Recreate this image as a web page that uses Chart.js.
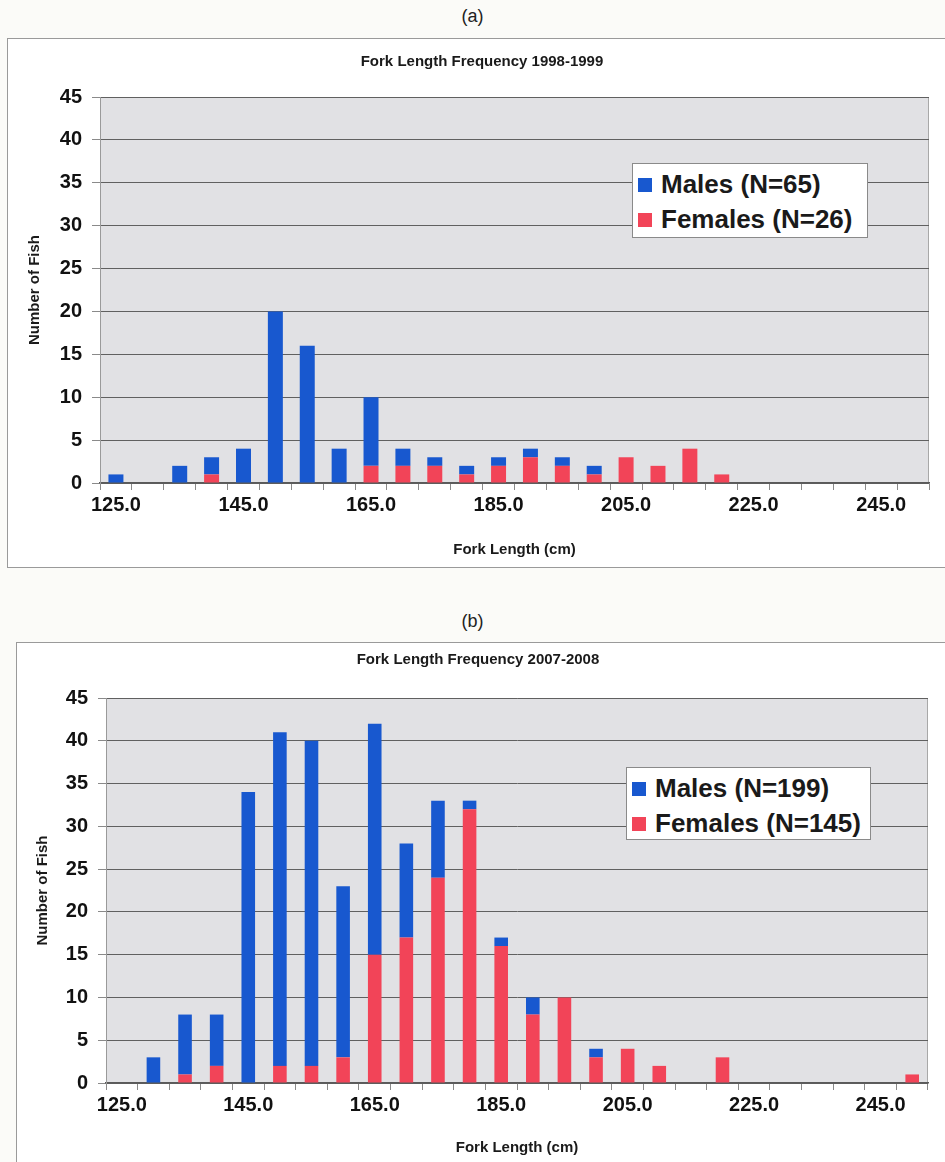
<!DOCTYPE html>
<html>
<head>
<meta charset="utf-8">
<script src="https://cdn.jsdelivr.net/npm/chart.js@4.4.1/dist/chart.umd.min.js"></script>
<style>
  body { margin:0; width:945px; height:1162px; overflow:hidden; position:relative; background:#fbfbf8; font-family:'Liberation Sans', Arial, sans-serif; }
  .cap { position:absolute; left:0; width:945px; text-align:center; font-size:18px; color:#222; }
  .frame { position:absolute; background:#fff; border:1px solid #9a9a9a; box-sizing:border-box; }
  canvas { position:absolute; }
  .legend { position:absolute; background:#fff; border:1px solid #8a8a8a; box-sizing:border-box; padding:3px 0 0 5px; font-weight:bold; font-size:26px; color:#1a1a1a; white-space:nowrap; }
  .legend .row { display:flex; align-items:center; height:35px; }
  .legend .sw { width:14px; height:14px; margin-right:9px; }
</style>
</head>
<body>
<div class="cap" style="top:6px">(a)</div>
<div class="frame" style="left:7px;top:38px;width:960px;height:530px"></div>
<canvas id="chartA" width="950" height="530" style="left:7px;top:38px"></canvas>
<div class="legend" id="legendA" style="left:632px;top:163px;width:236px;height:75px"></div>

<div class="cap" style="top:611px">(b)</div>
<div class="frame" style="left:16px;top:642px;width:960px;height:540px"></div>
<canvas id="chartB" width="945" height="530" style="left:16px;top:642px"></canvas>
<div class="legend" id="legendB" style="left:626px;top:767px;width:245px;height:73px"></div>

<script>
// fork length bins (cm), one bar per 5 cm
const lengths = [125,130,135,140,145,150,155,160,165,170,175,180,185,190,195,200,205,210,215,220,225,230,235,240,245,250];

// 1998-1999
const males9899   = [1,0,2,2,4,20,16,4,8,2,1,1,1,1,1,1,0,0,0,0,0,0,0,0,0,0];
const females9899 = [0,0,0,1,0,0,0,0,2,2,2,1,2,3,2,1,3,2,4,1,0,0,0,0,0,0];

// 2007-2008
const males0708   = [0,3,7,6,34,39,38,20,27,11,9,1,1,2,0,1,0,0,0,0,0,0,0,0,0,0];
const females0708 = [0,0,1,2,0,2,2,3,15,17,24,32,16,8,10,3,4,2,0,3,0,0,0,0,0,1];

const yTicks = [0,5,10,15,20,25,30,35,40,45];

const BLUE = '#1858cf';
const RED = '#f24458';
const FONT = "'Liberation Sans', Arial, sans-serif";

// grey plot area like the Excel original
const plotBg = {
  id: 'plotBg',
  beforeDraw(chart, args, opts) {
    const { ctx, chartArea: a } = chart;
    ctx.save();
    ctx.fillStyle = opts.color;
    ctx.fillRect(a.left, a.top, a.width, a.height);
    ctx.strokeStyle = opts.border;
    ctx.lineWidth = 1;
    ctx.strokeRect(a.left + 0.5, a.top + 0.5, a.width - 1, a.height - 1);
    ctx.restore();
  }
};

function legendHtml(el, items) {
  el.innerHTML = '';
  for (const it of items) {
    const row = document.createElement('div');
    row.className = 'row';
    const sw = document.createElement('span');
    sw.className = 'sw';
    sw.style.background = it.color;
    row.appendChild(sw);
    row.appendChild(document.createTextNode(it.text));
    el.appendChild(row);
  }
}

// g: page geometry of canvas and plot box
function plot(id, title, males, females, barPct, g) {
  const W = g.cw, H = g.ch;
  const plotL = g.plotLeft - g.left, plotR = g.plotRight - g.left;
  const plotT = g.plotTop - g.top, plotB = g.plotBottom - g.top;
  const padR = W - plotR;
  const padL = Math.max(0, 2 * (g.titleX - g.left) - plotR);
  const tLh = 18, aLh = 17;
  const tTop = g.titleY - g.top - tLh / 2;

  const cfg = {
    type: 'bar',
    data: {
      labels: lengths.map(v => v.toFixed(1)),
      datasets: [
        { label: 'Females', data: females, backgroundColor: RED, barPercentage: barPct, categoryPercentage: 1 },
        { label: 'Males', data: males, backgroundColor: BLUE, barPercentage: barPct, categoryPercentage: 1 }
      ]
    },
    options: {
      responsive: false,
      animation: false,
      layout: { padding: { left: padL, right: padR, top: 0, bottom: 0 } },
      plugins: {
        legend: { display: false },
        tooltip: { enabled: false },
        title: {
          display: true, text: title, color: '#1a1a1a',
          font: { family: FONT, size: 15, weight: 'bold', lineHeight: tLh / 15 },
          padding: { top: tTop, bottom: plotT - tTop - tLh }
        },
        plotBg: { color: '#e1e1e4', border: '#a8a8a8' }
      },
      scales: {
        x: {
          stacked: true,
          grid: { display: true, drawOnChartArea: false, offset: true, tickLength: 7, color: '#8a8a8a' },
          border: { color: '#5a5a5a', width: 1.5 },
          ticks: {
            autoSkip: false, maxRotation: 0, padding: 3, color: '#111',
            font: { family: FONT, size: 20, weight: 'bold' },
            callback: (v, i) => (i % 4 === 0 ? lengths[i].toFixed(1) : '')
          },
          title: {
            display: true, text: 'Fork Length (cm)', color: '#1a1a1a',
            font: { family: FONT, size: 15, weight: 'bold', lineHeight: aLh / 15 },
            padding: { top: 0, bottom: H - (g.xTitleY - g.top) - aLh / 2 }
          },
          afterFit: s => { s.height = H - plotB; }
        },
        y: {
          stacked: true, min: 0, max: 45,
          afterBuildTicks: s => { s.ticks = yTicks.map(v => ({ value: v })); },
          grid: { color: '#606060', tickLength: 8, tickColor: '#8a8a8a' },
          border: { color: '#9a9a9a' },
          ticks: { padding: 10, color: '#111', font: { family: FONT, size: 20, weight: 'bold' } },
          title: {
            display: true, text: 'Number of Fish', color: '#1a1a1a',
            font: { family: FONT, size: 15, weight: 'bold', lineHeight: aLh / 15 },
            padding: { top: g.yTitleX - g.left - padL - aLh / 2, bottom: 0 }
          },
          afterFit: s => { s.width = plotL - padL; }
        }
      }
    },
    plugins: [plotBg]
  };
  return new Chart(document.getElementById(id).getContext('2d'), cfg);
}

plot('chartA', 'Fork Length Frequency 1998-1999', males9899, females9899, 0.47, {
  left: 7, top: 38, cw: 950, ch: 530,
  plotLeft: 100, plotRight: 929, plotTop: 97, plotBottom: 483,
  titleX: 482, titleY: 62, xTitleY: 550, yTitleX: 35
});
legendHtml(document.getElementById('legendA'), [
  { color: BLUE, text: 'Males (N=65)' },
  { color: RED, text: 'Females (N=26)' }
]);

plot('chartB', 'Fork Length Frequency 2007-2008', males0708, females0708, 0.43, {
  left: 16, top: 642, cw: 945, ch: 530,
  plotLeft: 106, plotRight: 928, plotTop: 698, plotBottom: 1083,
  titleX: 478, titleY: 660, xTitleY: 1148, yTitleX: 43
});
legendHtml(document.getElementById('legendB'), [
  { color: BLUE, text: 'Males (N=199)' },
  { color: RED, text: 'Females (N=145)' }
]);
</script>
</body>
</html>
